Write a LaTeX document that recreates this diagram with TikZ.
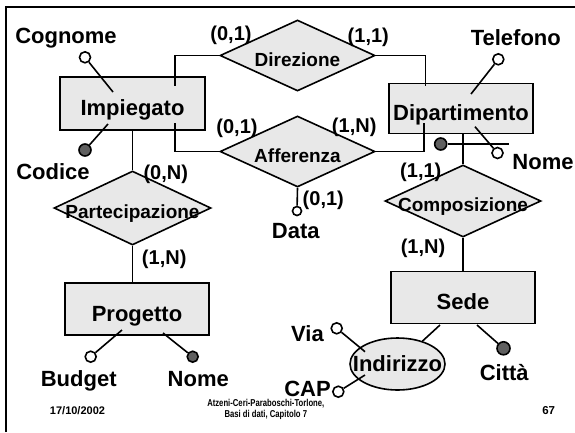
\documentclass[tikz,border=0pt]{standalone}
\usepackage{fontspec}
\setmainfont{Liberation Sans}
\newfontfamily\footfont[FakeStretch=0.77]{Liberation Sans}
\usetikzlibrary{shapes.geometric}
\definecolor{shapefill}{HTML}{E8E8E8}
\definecolor{keydot}{HTML}{5F5F5F}
\tikzset{
  entity/.style={draw, fill=shapefill, line width=1.6pt, inner sep=0pt,
                 minimum width=144pt, minimum height=52pt,
                 text height=24pt, text depth=0pt,
                 font=\bfseries\fontsize{22}{24}\selectfont},
  relation/.style={diamond, draw, fill=shapefill, line width=1.6pt, inner sep=0pt,
                   aspect=2.2, minimum width=156pt, minimum height=71pt,
                   text height=21pt, text depth=0pt,
                   font=\bfseries\fontsize{19}{21}\selectfont},
  compattr/.style={ellipse, draw, fill=shapefill, line width=1.6pt, inner sep=0pt,
                   minimum width=95pt, minimum height=52pt,
                   text height=14pt, text depth=0pt,
                   font=\bfseries\fontsize{22}{24}\selectfont},
  attr/.style={circle, draw, fill=white, line width=1.6pt, inner sep=0pt, minimum size=11pt},
  keyattr/.style={attr, fill=keydot, minimum size=12pt},
  attrname/.style={inner sep=0pt, text height=15pt, text depth=0pt,
                   font=\bfseries\fontsize{22}{24}\selectfont},
  card/.style={inner sep=0pt, text height=14pt, text depth=0pt,
               font=\bfseries\fontsize{20}{22}\selectfont},
  link/.style={line width=1.6pt},
  foot/.style={inner sep=0pt, align=center},
}

\begin{document}
\begin{tikzpicture}[x=1pt, y=-1pt]
  \useasboundingbox (0,0) rectangle (575,432);
  \draw[line width=1.8pt] (6,432) -- (6,7) -- (575,7);

  \node[entity, minimum width=145pt, minimum height=53pt] (imp) at (132.5,103.5) {Impiegato};
  \node[entity, minimum height=50pt] (dip) at (461,108.3) {Dipartimento};
  \node[entity] (prog) at (137,309.2) {Progetto};
  \node[entity] (sede) at (463,297.5) {Sede};

  \node[relation, minimum width=155pt] (dir) at (297.5,55.5) {\makebox[0pt]{Direzione}};
  \node[relation, minimum width=155pt] (aff) at (297.5,151.5) {\makebox[0pt]{Afferenza}};
  \node[relation, minimum width=157pt, minimum height=74pt] (part) at (132.5,208) {\makebox[0pt]{Partecipazione}};
  \node[relation, minimum height=72pt] (comp) at (463,201) {\makebox[0pt]{Composizione}};
  \node[compattr] (indir) at (397.5,364) {\makebox[0pt]{Indirizzo}};

  % end points inside the boxes
  \coordinate (impdir) at (175,86);
  \coordinate (impaff) at (175,123);
  \coordinate (dipdir) at (425.5,86);
  \coordinate (dipaff) at (424,123);

  \draw[link] (dir.west) -| (impdir);
  \draw[link] (aff.west) -| (impaff);
  \draw[link] (dir.east) -| (dipdir);
  \draw[link] (aff.east) -| (dipaff);
  \draw[link] (imp.south) -- (part.north);
  \draw[link] (part.south) -- (part.south |- prog.north);
  \draw[link] (comp.north) -- (comp.north |- dip.south);
  \draw[link] (comp.south) -- (sede.north);

  \node[card] (c1) at (231,33.3) {(0,1)};
  \node[card] (c2) at (368.3,35) {(1,1)};
  \node[card] (c3) at (237,126.7) {(0,1)};
  \node[card] (c4) at (354.2,125) {(1,N)};
  \node[card] (c5) at (165.8,172) {(0,N)};
  \node[card] (c6) at (164.2,257.5) {(1,N)};
  \node[card] (c7) at (420.8,170.8) {(1,1)};
  \node[card] (c8) at (423,246) {(1,N)};
  \node[card] (c9) at (323.3,198.3) {(0,1)};

  % attributes
  \node[attr] (cogn) at (85,57.3) {};
  \node[keyattr] (cod) at (85,150) {};
  \node[attr] (tel) at (498.3,59.3) {};
  \node[attr] (dnome) at (497.5,153) {};
  \node[keyattr] (dkey) at (440.7,144) {};
  \node[attr, minimum size=9pt] (data) at (297,211) {};
  \node[attr] (budg) at (90.7,356.7) {};
  \node[keyattr, minimum size=11pt] (pnome) at (192.7,356.7) {};
  \node[keyattr, minimum size=13pt] (citta) at (503.5,348.3) {};
  \node[attr] (via) at (336.7,328.3) {};
  \node[attr] (cap) at (338.3,391.7) {};

  \coordinate (impcogn) at (113,92);
  \coordinate (impcod) at (108,124);
  \coordinate (diptel) at (471,94);
  \coordinate (dipnome) at (475,126.7);
  \coordinate (keyend) at (509,144);
  \coordinate (progbudg) at (122,330);
  \coordinate (prognome) at (163,333);
  \coordinate (sedecitta) at (477,325);
  \coordinate (sedeind) at (440,325);
  \coordinate (indvia) at (365,351.7);
  \coordinate (indcap) at (365,375);

  \draw[link] (cogn) -- (impcogn);
  \draw[link] (cod) -- (impcod);
  \draw[link] (tel) -- (diptel);
  \draw[link] (dnome) -- (dipnome);
  \draw[link] (dkey) -- (keyend);
  \draw[link] (aff.south) -- (data);
  \draw[link] (budg) -- (progbudg);
  \draw[link] (pnome) -- (prognome);
  \draw[link] (citta) -- (sedecitta);
  \draw[link] (indir) -- (sedeind);
  \draw[link] (via) -- (indvia);
  \draw[link] (cap) -- (indcap);

  \node[attrname] (cognl) at (66,36) {Cognome};
  \node[attrname] (codl) at (53,172) {Codice};
  \node[attrname] (tell) at (515.8,37.5) {Telefono};
  \node[attrname] (dnomel) at (543,161.7) {Nome};
  \node[attrname] (datal) at (295.8,230.8) {Data};
  \node[attrname] (budgl) at (78.7,378.8) {Budget};
  \node[attrname] (pnomel) at (198.3,378.8) {Nome};
  \node[attrname] (cittal) at (504.2,373) {Città};
  \node[attrname] (vial) at (307.5,334) {Via};
  \node[attrname] (capl) at (307.5,388.5) {CAP};

  \node[foot, font=\bfseries\fontsize{11}{12}\selectfont] (date) at (77.5,410.3) {17/10/2002};
  \node[foot, font=\footfont\bfseries\fontsize{10}{11}\selectfont] (cite) at (265.8,409.8)
    {Atzeni-Ceri-Paraboschi-Torlone,\\Basi di dati, Capitolo 7};
  \node[foot, font=\bfseries\fontsize{11.5}{12}\selectfont] (page) at (548.7,410.3) {67};
\end{tikzpicture}
\end{document}
